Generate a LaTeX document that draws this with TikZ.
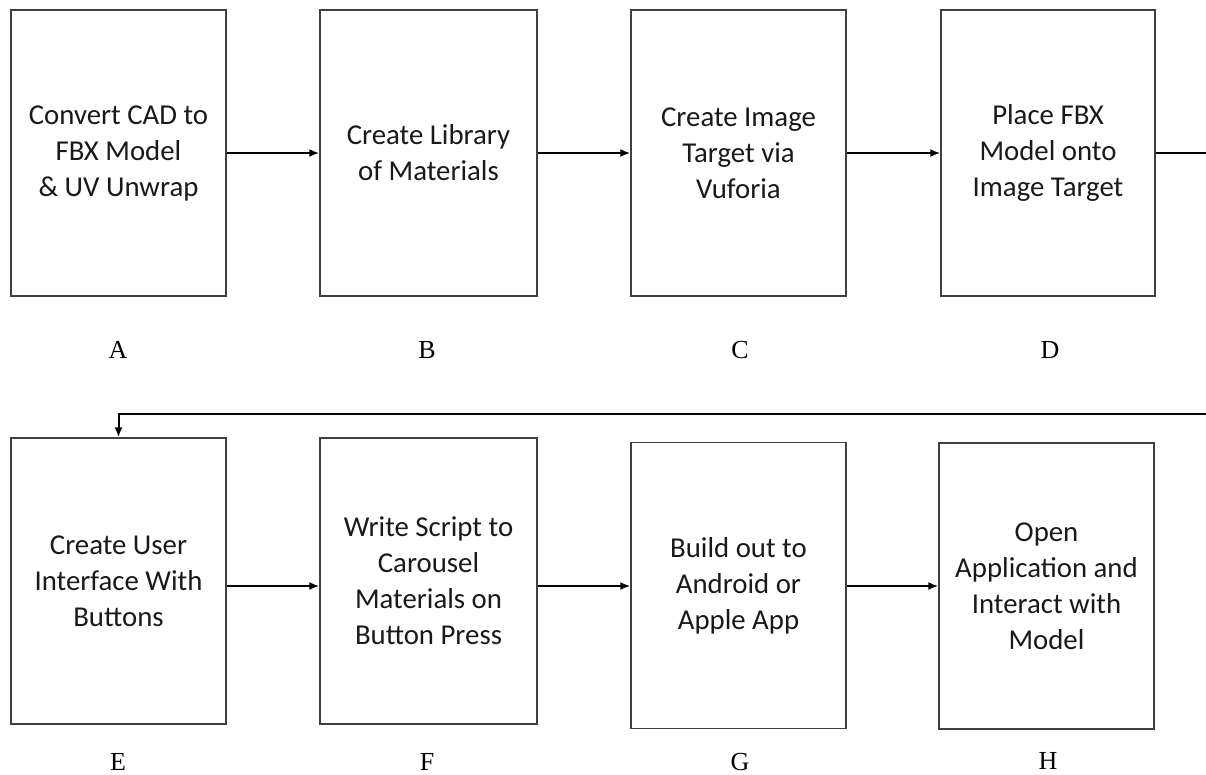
\documentclass[tikz,border=0pt]{standalone}
\usepackage{fontspec}
\setmainfont{Carlito}
\newfontfamily\labelfont{Liberation Serif}
\usetikzlibrary{arrows.meta}
\begin{document}
\begin{tikzpicture}[x=1pt,y=-1pt,
  stepbox/.style={draw=black!75,line width=1.3pt,minimum width=215pt,minimum height=286pt,
    align=center,inner sep=0pt,font=\fontsize{28.8}{36}\selectfont,text=black!90},
  steplabel/.style={font=\labelfont\fontsize{26}{30}\selectfont,inner sep=0pt,anchor=base},
  flow/.style={line width=2pt,-{Latex[length=10pt,width=8pt]}},
  plain/.style={line width=2pt}]
\useasboundingbox (0,0) rectangle (1206,774);
% top row
\node[stepbox] (A) at (118.5,153) {Convert CAD to\\FBX Model\\\& UV Unwrap};
\node[stepbox,minimum width=217pt] (B) at (428.5,153) {Create Library\\of Materials};
\node[stepbox] (C) at (738.5,153) {Create Image\\Target via\\Vuforia};
\node[stepbox,minimum width=214pt] (D) at (1048,153) {Place FBX\\Model onto\\Image Target};
% bottom row
\node[stepbox] (E) at (118.5,581) {Create User\\Interface With\\Buttons};
\node[stepbox,minimum width=217pt] (F) at (428.5,581) {Write Script to\\Carousel\\Materials on\\Button Press};
\node[stepbox] (G) at (738.5,585.5) {Build out to\\Android or\\Apple App};
\node[stepbox] (H) at (1046.5,586) {Open\\Application and\\Interact with\\Model};
% letters under the boxes
\node[steplabel] (la) at (118,358) {A};
\node[steplabel] (lb) at (427,358) {B};
\node[steplabel] (lc) at (740,358) {C};
\node[steplabel] (ld) at (1050,358) {D};
\node[steplabel] (le) at (118,770) {E};
\node[steplabel] (lf) at (427,770) {F};
\node[steplabel] (lg) at (740,770) {G};
\node[steplabel] (lh) at (1048,769) {H};
% connectors
\coordinate (dout) at (1206,153);
\coordinate (ein) at (1206,414);
\draw[flow] (A) -- (B);
\draw[flow] (B) -- (C);
\draw[flow] (C) -- (D);
\draw[plain] (D.east) -- (dout);
\draw[flow] (ein) -| (E.north);
\draw[flow] (E.east |- H) -- (F.west |- H);
\draw[flow] (F.east |- H) -- (G.west |- H);
\draw[flow] (G.east |- H) -- (H.west);
\end{tikzpicture}
\end{document}
